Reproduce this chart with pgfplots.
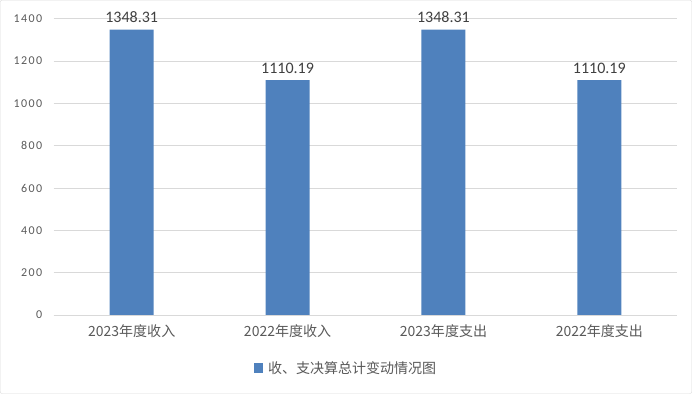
\documentclass[border=0pt]{standalone}
\usepackage{pgfplots}
\pgfplotsset{compat=1.18}
\usepackage{fontspec}
\setmainfont{Carlito}
\newfontfamily\cjk{Noto Sans CJK SC}
\newfontfamily\tickfont{Carlito}[LetterSpace=12]
\definecolor{barblue}{HTML}{4F81BD}
\definecolor{gridgray}{HTML}{D9D9D9}
\definecolor{ticktext}{HTML}{595959}
\definecolor{labeltext}{HTML}{404040}
\begin{document}
\begin{tikzpicture}[x=1pt,y=1pt]
\draw[gridgray, rounded corners=2pt] (0.5,0.5) rectangle (691.5,393.5);
\begin{axis}[
  at={(54pt,79pt)}, anchor=south west,
  scale only axis,
  width=623pt, height=296pt,
  xmin=-0.5, xmax=3.5,
  ymin=0, ymax=1400,
  ytick={0,200,...,1400},
  xtick={0,1,2,3},
  xticklabels={2023年度收入,2022年度收入,2023年度支出,2022年度支出},
  ymajorgrids,
  grid style={gridgray, line width=0.8pt},
  axis x line*=bottom,
  axis y line*=left,
  x axis line style={gridgray, line width=0.8pt, -},
  y axis line style={draw=none},
  major tick length=0pt,
  tick style={draw=none},
  yticklabel style={font=\tickfont\fontsize{12}{14}\selectfont, text=ticktext, xshift=-8pt},
  xticklabel style={font=\cjk\fontsize{14}{16}\selectfont, text=ticktext, yshift=-6pt},
  yticklabel={\pgfmathprintnumber[fixed,precision=0,assume math mode=true,1000 sep={}]{\tick}},
  ybar, bar width=44pt,
  nodes near coords,
  nodes near coords style={font=\fontsize{16}{18}\selectfont, text=labeltext, yshift=3pt, /pgf/number format/.cd, fixed, precision=2, fixed zerofill, assume math mode=true, 1000 sep={}},
  legend style={at={(0.469,-0.179)}, anchor=center, draw=none, font=\cjk\fontsize{14}{16}\selectfont, text=ticktext, legend cell align=left},
  legend image code/.code={\fill[barblue] (0pt,-4.5pt) rectangle (9pt,4.5pt);},
]
\addplot[fill=barblue, draw=none] coordinates {(0,1348.31) (1,1110.19) (2,1348.31) (3,1110.19)};
\addlegendentry{\hspace{3pt}收、支决算总计变动情况图}
\end{axis}
\end{tikzpicture}
\end{document}
